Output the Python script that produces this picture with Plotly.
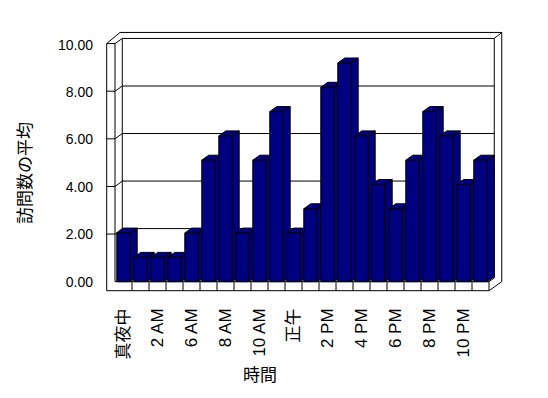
import plotly.graph_objects as go

# ---- data ----
hours = ["真夜中", "1 AM", "2 AM", "3 AM", "6 AM", "7 AM", "8 AM", "9 AM", "10 AM", "11 AM",
         "正午", "1 PM", "2 PM", "3 PM", "4 PM", "5 PM", "6 PM", "7 PM", "8 PM", "9 PM",
         "10 PM", "11 PM"]
visits = [2, 1, 1, 1, 2, 5, 6, 2, 5, 7, 2, 3, 8, 9, 6, 4, 3, 5, 7, 6, 4, 5]
y_ticks = [0, 2, 4, 6, 8, 10]
x_title = "時間"
y_title = "訪問数の平均"

# ---- styling / geometry ----
NAVY = "#000080"
FONT = "Liberation Sans, Arial, Noto Sans CJK JP"
N = len(hours)
xs = list(range(N))
HALF = 0.395      # half width of bar front face (category units)
DX = 0.41         # depth offset in x (category units)
DY = 0.206        # depth offset in y (value units)

W, H = 548, 398
ML, MR, MT, MB = 103, 44, 28, 104
X0, PXX = 123.5, 17.0      # pixel of category 0, px per category
Y0, PXY = 281.7, 24.3      # pixel of value 0, px per unit
xr = [(ML - X0) / PXX, (W - MR - X0) / PXX]
yr = [(Y0 - (H - MB)) / PXY, (Y0 - MT) / PXY]


def back(g):   # back-wall height of gridline g
    return 0.978 * g + 0.23


def front(g):  # front edge of left wall
    return 0.98 * g


fig = go.Figure()

# side + top faces of each bar (drawn left to right)
for i, v in zip(xs, visits):
    r = i + HALF
    l = i - HALF
    px = [r, r + DX, r + DX, r, r, None, l, l + DX, r + DX, r, l]
    py = [0, DY, v + DY, v, 0, None, v, v + DY, v + DY, v, v]
    fig.add_trace(go.Scatter(x=px, y=py, mode="lines", fill="toself",
                             fillcolor=NAVY, line=dict(color="black", width=1),
                             hoverinfo="skip", showlegend=False))

# front faces (overlay axes so they sit above the side faces)
fig.add_trace(go.Bar(x=xs, y=visits, width=2 * HALF, marker=dict(color=NAVY,
                     line=dict(color="black", width=1)), xaxis="x2", yaxis="y2",
                     showlegend=False))

# ---- frame (walls / floor) ----
FL, FI = -0.988, -0.5
BL, BR = -0.071, N - 0.5 + 0.31
FR = N - 0.5
OR = N - 0.5 + 0.75
TOP_IN, TOP_OUT = back(10), back(10) + 0.247
FRONT_TOP = front(10)
FLOOR_BOT = -0.37

segs = [
    (FL, FLOOR_BOT, FL, FRONT_TOP),
    (FI, 0, FI, FRONT_TOP),
    (FL, FRONT_TOP, FI, FRONT_TOP),
    (FL, FRONT_TOP, -0.206, TOP_OUT),
    (-0.206, TOP_OUT, OR, TOP_OUT),
    (OR, TOP_OUT, OR, 0),
    (OR, 0, FR, FLOOR_BOT),
    (FL, FLOOR_BOT, FR, FLOOR_BOT),
    (FI, 0, FR, 0),
    (FR, 0, BR, 0.152),
    (BR, 0.152, BR, TOP_IN),
    (BL, TOP_IN, BR, TOP_IN),
    (OR, TOP_OUT, BR, TOP_IN),
    (BL, TOP_IN, BL, back(0)),
    (FI, FRONT_TOP, BL, TOP_IN),
]
for g in y_ticks[1:-1]:
    segs.append((BL, back(g), BR, back(g)))
    segs.append((FL, front(g), FI, front(g)))
    segs.append((FI, front(g), BL, back(g)))
for k in range(1, N + 1):
    segs.append((k - 0.5, FLOOR_BOT, k - 0.5, 0))

shapes = [dict(type="line", xref="x", yref="y", x0=a, y0=b, x1=c, y1=d,
               line=dict(color="black", width=1), layer="below")
          for a, b, c, d in segs]

axis_common = dict(showgrid=False, zeroline=False, showline=False)
fig.update_layout(
    width=W, height=H,
    margin=dict(l=ML, r=MR, t=MT, b=MB, pad=0),
    paper_bgcolor="white", plot_bgcolor="rgba(0,0,0,0)",
    font=dict(family=FONT, color="black", size=14),
    showlegend=False,
    shapes=shapes,
    xaxis=dict(range=xr, tickvals=xs[::2], ticktext=hours[::2], tickangle=-90,
               ticks="", ticklabelstandoff=10, tickfont=dict(size=17, family=FONT),
               **axis_common),
    yaxis=dict(range=yr, tickvals=[0.975 * g for g in y_ticks],
               ticktext=[f"{g:.2f}" for g in y_ticks], ticks="",
               ticklabelstandoff=9, tickfont=dict(size=14, family=FONT),
               **axis_common),
    xaxis2=dict(range=xr, overlaying="x", visible=False, **axis_common),
    yaxis2=dict(range=yr, overlaying="y", visible=False, **axis_common),
    annotations=[
        dict(text=y_title, textangle=-90, xref="paper", yref="paper",
             x=(25 - ML) / (W - ML - MR), y=((H - MB) - 173) / (H - MT - MB),
             xanchor="center", yanchor="middle",
             showarrow=False, font=dict(size=17, family=FONT)),
        dict(text=x_title, xref="paper", yref="paper",
             x=(260 - ML) / (W - ML - MR), y=((H - MB) - 375) / (H - MT - MB),
             xanchor="center", yanchor="middle",
             showarrow=False, font=dict(size=17, family=FONT)),
    ],
)

fig.write_html("out.html")
